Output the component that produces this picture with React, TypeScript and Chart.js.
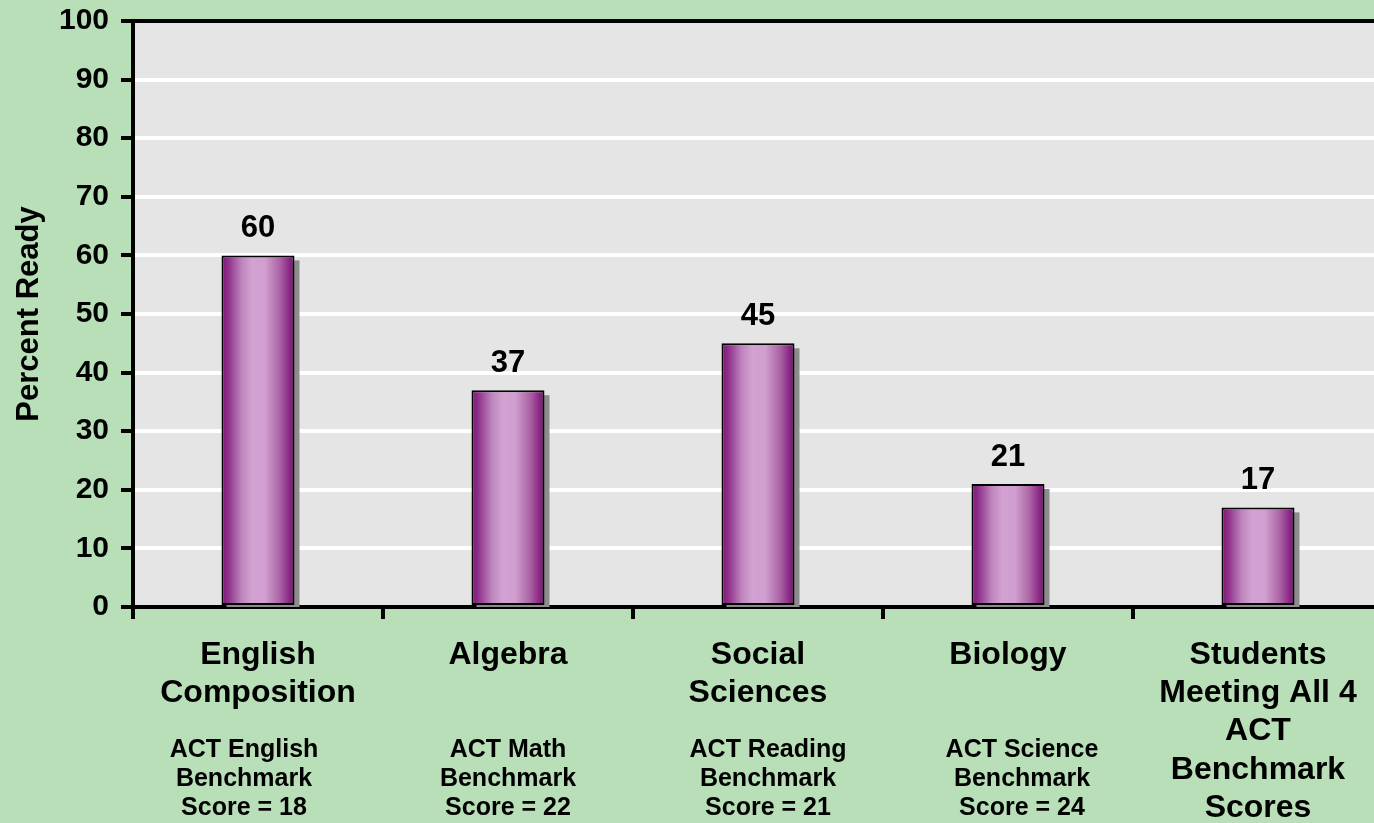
import React, { useEffect, useRef } from "react";
import { Chart, registerables } from "chart.js";

Chart.register(...registerables);

// ---- Data ----
const categories = [
  "English Composition",
  "Algebra",
  "Social Sciences",
  "Biology",
  "Students Meeting All 4 ACT Benchmark Scores",
];
const categoryLines = [
  ["English", "Composition"],
  ["Algebra"],
  ["Social", "Sciences"],
  ["Biology"],
  ["Students", "Meeting All 4", "ACT", "Benchmark", "Scores"],
];
const benchmarkLines = [
  ["ACT English", "Benchmark", "Score = 18"],
  ["ACT Math", "Benchmark", "Score = 22"],
  ["ACT Reading", "Benchmark", "Score = 21"],
  ["ACT Science", "Benchmark", "Score = 24"],
  [],
];
const percentReady = [60, 37, 45, 21, 17];
const yMin = 0;
const yMax = 100;
const yStep = 10;
const yTitle = "Percent Ready";

// ---- Styling / layout constants ----
const FONT = '"Liberation Sans", Arial, Helvetica, sans-serif';
const BAR_FRACTION = 0.292;
const BENCHMARK_SHIFT = [-14, 0, 10, 14, 0];

const bgPlugin = {
  id: "bgPlugin",
  beforeDraw(chart: any) {
    const { ctx, chartArea: a } = chart;
    ctx.save();
    ctx.fillStyle = "#E5E5E5";
    ctx.fillRect(a.left, a.top, a.right - a.left, a.bottom - a.top);
    ctx.restore();
  },
  beforeDatasetsDraw(chart: any) {
    const { ctx, chartArea: a } = chart;
    const meta = chart.getDatasetMeta(0);
    ctx.save();
    ctx.beginPath();
    ctx.rect(a.left, a.top, a.right - a.left, a.bottom - a.top);
    ctx.clip();
    ctx.fillStyle = "#8C8C8C";
    meta.data.forEach((bar: any) => {
      const { x, y, base, width } = bar.getProps(["x", "y", "base", "width"], true);
      ctx.fillRect(x - width / 2 + 5, y + 5, width, base - y);
    });
    ctx.restore();
  },
  afterDatasetsDraw(chart: any) {
    const { ctx, chartArea: a } = chart;
    const meta = chart.getDatasetMeta(0);
    ctx.save();
    ctx.fillStyle = "#000";
    ctx.textAlign = "center";
    ctx.textBaseline = "alphabetic";
    ctx.font = `bold 31px ${FONT}`;
    meta.data.forEach((bar: any, i: number) => {
      const { x, y } = bar.getProps(["x", "y"], true);
      ctx.fillText(String(percentReady[i]), x, y - 18);
    });
    // top border
    ctx.strokeStyle = "#000";
    ctx.lineWidth = 4;
    ctx.beginPath();
    ctx.moveTo(a.left - 11, a.top);
    ctx.lineTo(a.right, a.top);
    ctx.stroke();
    ctx.restore();
  },
  afterDraw(chart: any) {
    const { ctx, chartArea: a } = chart;
    const xs = chart.scales.x;
    ctx.save();
    ctx.fillStyle = "#000";
    ctx.textAlign = "center";
    ctx.textBaseline = "middle";
    categoryLines.forEach((lines, i) => {
      const cx = xs.getPixelForValue(i);
      ctx.font = `bold 32px ${FONT}`;
      lines.forEach((t, j) => ctx.fillText(t, cx, 655 + j * 38.3));
      ctx.font = `bold 25px ${FONT}`;
      benchmarkLines[i].forEach((t, j) => ctx.fillText(t, cx + BENCHMARK_SHIFT[i], 750 + j * 29));
    });
    // y title
    ctx.translate(29, (a.top + a.bottom) / 2);
    ctx.rotate(-Math.PI / 2);
    ctx.font = `bold 31px ${FONT}`;
    ctx.fillText(yTitle, 0, 0);
    ctx.restore();
  },
};

function barGradient(ctx: any) {
  const chart = ctx.chart;
  const xs = chart.scales && chart.scales.x;
  if (!chart.chartArea || !xs) return "#C080C0";
  const cx = xs.getPixelForValue(ctx.dataIndex);
  const w = (xs.width / categories.length) * BAR_FRACTION;
  const g = chart.ctx.createLinearGradient(cx - w / 2, 0, cx + w / 2, 0);
  g.addColorStop(0, "#7A1874");
  g.addColorStop(0.08, "#8C2A87");
  g.addColorStop(0.28, "#BE86BE");
  g.addColorStop(0.42, "#D2A2D1");
  g.addColorStop(0.6, "#D09ECF");
  g.addColorStop(0.8, "#AA64A4");
  g.addColorStop(0.94, "#882383");
  g.addColorStop(1, "#7A1674");
  return g;
}

export default function App() {
  const ref = useRef<HTMLCanvasElement | null>(null);
  useEffect(() => {
    if (!ref.current) return;
    const chart = new Chart(ref.current, {
      type: "bar",
      data: {
        labels: categories,
        datasets: [
          {
            data: percentReady,
            backgroundColor: barGradient as any,
            borderColor: "#000",
            borderWidth: 2,
            borderSkipped: false,
            categoryPercentage: 1,
            barPercentage: BAR_FRACTION,
          },
        ],
      },
      options: {
        animation: false,
        responsive: true,
        maintainAspectRatio: false,
        layout: { padding: { top: 21, right: 9, left: 0, bottom: 0 } },
        plugins: {
          legend: { display: false },
          tooltip: { enabled: false },
          title: { display: false },
        },
        scales: {
          x: {
            offset: true,
            grid: {
              offset: true,
              drawOnChartArea: false,
              drawTicks: true,
              tickLength: 12,
              tickColor: "#000",
              lineWidth: 4,
            },
            border: { display: true, color: "#000", width: 4 },
            ticks: { display: false },
            afterFit(scale: any) {
              scale.height = 216;
              scale.paddingLeft = 0;
              scale.paddingRight = 0;
            },
          },
          y: {
            min: yMin,
            max: yMax,
            ticks: {
              stepSize: yStep,
              color: "#000",
              padding: 12,
              font: { family: FONT, size: 30, weight: "bold" },
            },
            grid: {
              color: "#FFFFFF",
              lineWidth: 4,
              tickColor: "#000",
              tickLength: 12,
            },
            border: { display: true, color: "#000", width: 4 },
            afterFit(scale: any) {
              scale.width = 133;
              scale.paddingTop = 0;
              scale.paddingBottom = 0;
            },
          },
        },
      },
      plugins: [bgPlugin],
    });
    return () => chart.destroy();
  }, []);

  return (
    <div
      style={{
        position: "fixed",
        left: 0,
        top: 0,
        width: 1374,
        height: 823,
        overflow: "hidden",
        background: "#B8DFB8",
      }}
    >
      <div style={{ position: "absolute", left: 0, top: 0, width: 1392, height: 823 }}>
        <canvas ref={ref} />
      </div>
    </div>
  );
}
